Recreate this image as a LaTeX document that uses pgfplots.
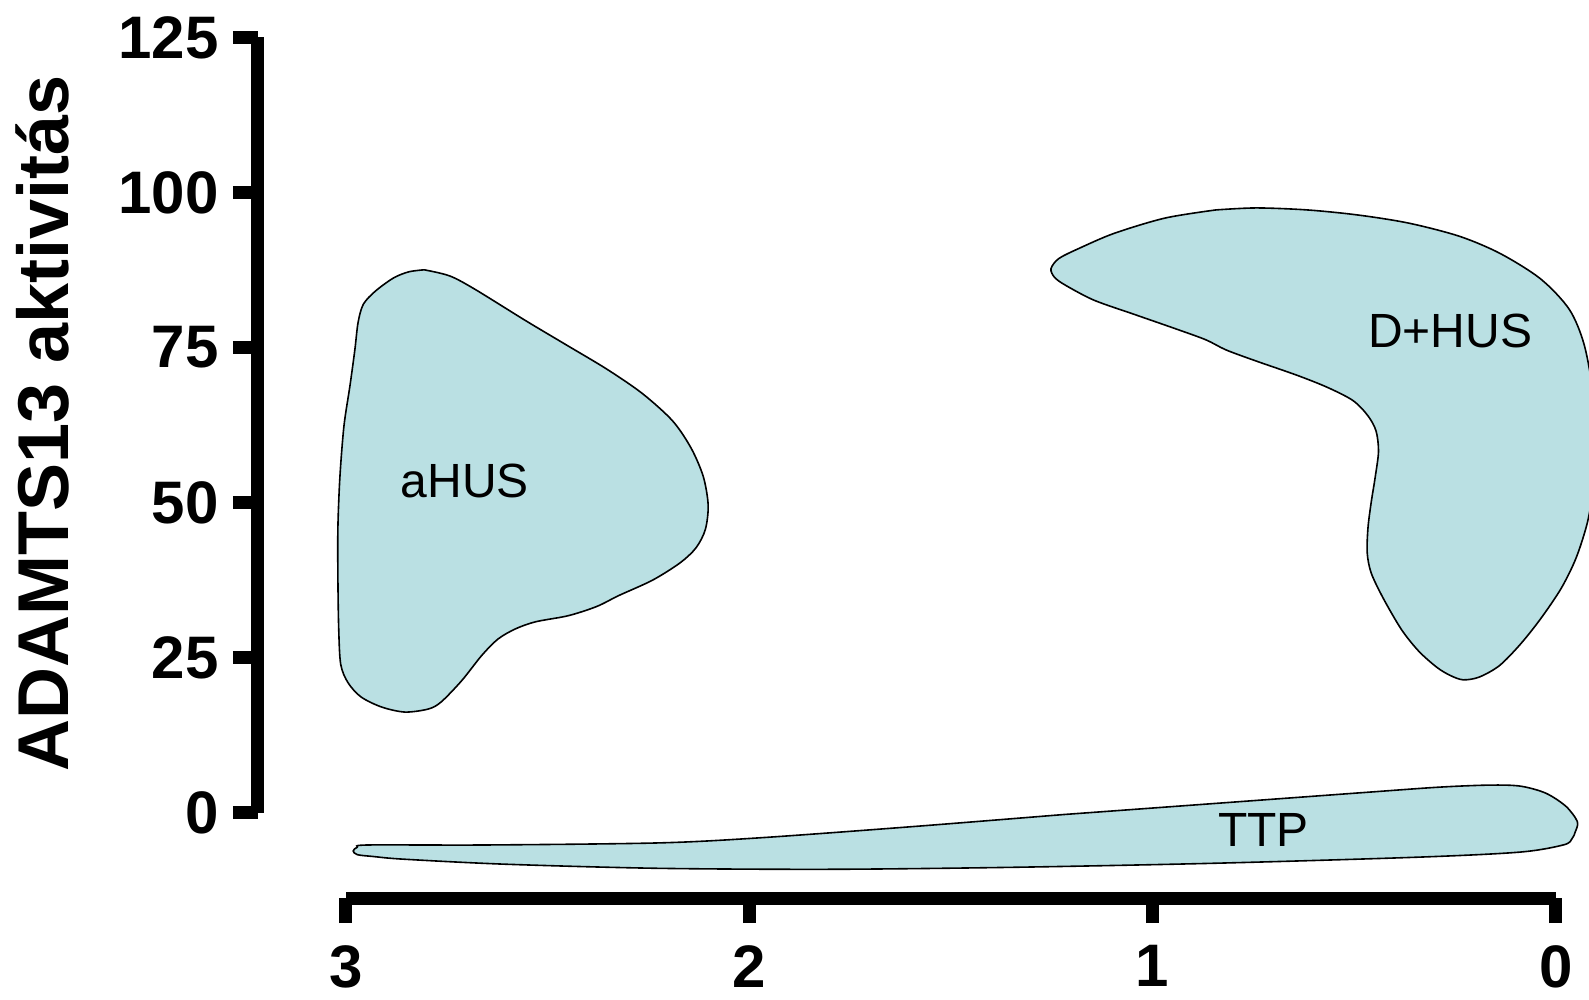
\documentclass[border=0pt]{standalone}
\usepackage{fontspec}
\setmainfont{Liberation Sans}
\usepackage{pgfplots}
\pgfplotsset{compat=1.18}
\definecolor{blobfill}{RGB}{186,224,227}

\begin{document}
\begin{tikzpicture}
\begin{axis}[
  at={(0,0)}, anchor=south west,
  scale only axis, width=302.5pt, height=193.75pt,
  xmin=0, xmax=3, ymin=0, ymax=125,
  x dir=reverse,
  clip=false,
  axis x line*=bottom, axis y line*=left,
  axis x line shift=21.4pt, axis y line shift=22pt,
  axis line style={line width=3.25pt, line cap=butt},
  xtick={0,1,2,3}, ytick={0,25,50,75,100,125},
  tick align=outside, major tick length=6.25pt,
  tick style={line width=3.25pt, black, line cap=butt},
  minor tick num=0,
  tick label style={font=\fontsize{15}{18}\selectfont\bfseries, inner sep=0pt},
  xticklabel style={yshift=-5.4pt},
  yticklabel style={xshift=-3.4pt},
  /pgf/number format/assume math mode=true,
  no markers,
]

% aHUS
\addplot[smooth, fill=blobfill, draw=black, line width=0.4pt] coordinates {
  (2.806,87.53) (2.743,86.55) (2.681,84.42) (2.555,79.35) (2.454,75.43)
  (2.353,71.50) (2.265,67.57) (2.190,63.15) (2.144,58.74) (2.114,54.16)
  (2.102,49.57) (2.109,45.65) (2.132,42.70) (2.172,40.25) (2.240,37.47)
  (2.323,35.01) (2.379,33.21) (2.449,31.74) (2.530,30.76) (2.580,29.61)
  (2.623,27.98) (2.663,25.36) (2.713,21.27) (2.764,17.83) (2.796,16.69)
  (2.854,16.20) (2.912,17.02) (2.963,18.65) (2.995,20.94) (3.013,23.89)
  (3.018,29.61) (3.020,37.79) (3.020,45.98) (3.015,54.16) (3.005,62.34)
  (2.990,68.88) (2.978,74.61) (2.970,79.03) (2.957,81.97) (2.927,84.10)
  (2.882,86.22) (2.844,87.21) (2.806,87.53)
};

% D+HUS
\addplot[smooth, fill=blobfill, draw=black, line width=0.4pt] coordinates {
  (0.843,97.19) (0.743,97.51) (0.617,97.19) (0.491,96.37) (0.365,95.06)
  (0.239,92.93) (0.138,90.15) (0.038,86.06) (-0.033,81.15) (-0.070,75.43)
  (-0.093,67.24) (-0.101,59.06) (-0.093,52.52) (-0.078,46.79) (-0.050,41.07)
  (-0.013,36.16) (0.038,31.25) (0.088,27.16) (0.140,23.70) (0.190,21.85)
  (0.230,21.40) (0.262,22.10) (0.295,23.40) (0.340,26.00) (0.383,29.50)
  (0.428,34.52) (0.458,38.61) (0.468,41.88) (0.466,45.98) (0.458,50.07)
  (0.448,54.16) (0.440,58.25) (0.446,61.52) (0.466,63.97) (0.503,66.43)
  (0.566,68.55) (0.642,70.52) (0.743,72.81) (0.818,74.61) (0.868,76.24)
  (0.944,78.04) (1.045,80.33) (1.145,82.62) (1.215,85.00) (1.243,86.30)
  (1.252,87.70) (1.233,89.33) (1.183,90.97) (1.095,93.42) (0.969,95.88)
  (0.843,97.19)
};

% TTP
\addplot[smooth, fill=blobfill, draw=black, line width=0.4pt] coordinates {
  (1.221,-0.33) (0.843,1.47) (0.466,3.27)
  (0.289,4.09) (0.164,4.42) (0.088,4.25) (0.025,3.11) (-0.025,0.98)
  (-0.053,-1.47) (-0.048,-3.11) (-0.040,-4.20) (-0.020,-5.20) (0.088,-6.38)
  (0.340,-7.20) (0.843,-8.18) (1.347,-8.84) (1.800,-9.16) (2.228,-9.00)
  (2.605,-8.34) (2.857,-7.53) (2.932,-7.10) (2.972,-6.80) (2.982,-6.20)
  (2.972,-5.60) (2.945,-5.24) (2.655,-5.24) (2.228,-4.91)
  (1.976,-4.09) (1.598,-2.29) (1.221,-0.33)
};

\node[font=\fontsize{12}{14}\selectfont] at (axis cs:2.705,53.4) {aHUS};
\node[font=\fontsize{12}{14}\selectfont] at (axis cs:0.262,77.7) {D+HUS};
\node[font=\fontsize{12}{14}\selectfont] at (axis cs:0.725,-2.78) {TTP};

\node[font=\fontsize{18}{22}\selectfont\bfseries, rotate=90, anchor=base]
  at (axis cs:3.687,62.8) {ADAMTS13 aktivitás};
\end{axis}
\pgfresetboundingbox
\path[use as bounding box] (-86.5pt,-46.625pt) rectangle (310.75pt,203.125pt);
\end{tikzpicture}
\end{document}
